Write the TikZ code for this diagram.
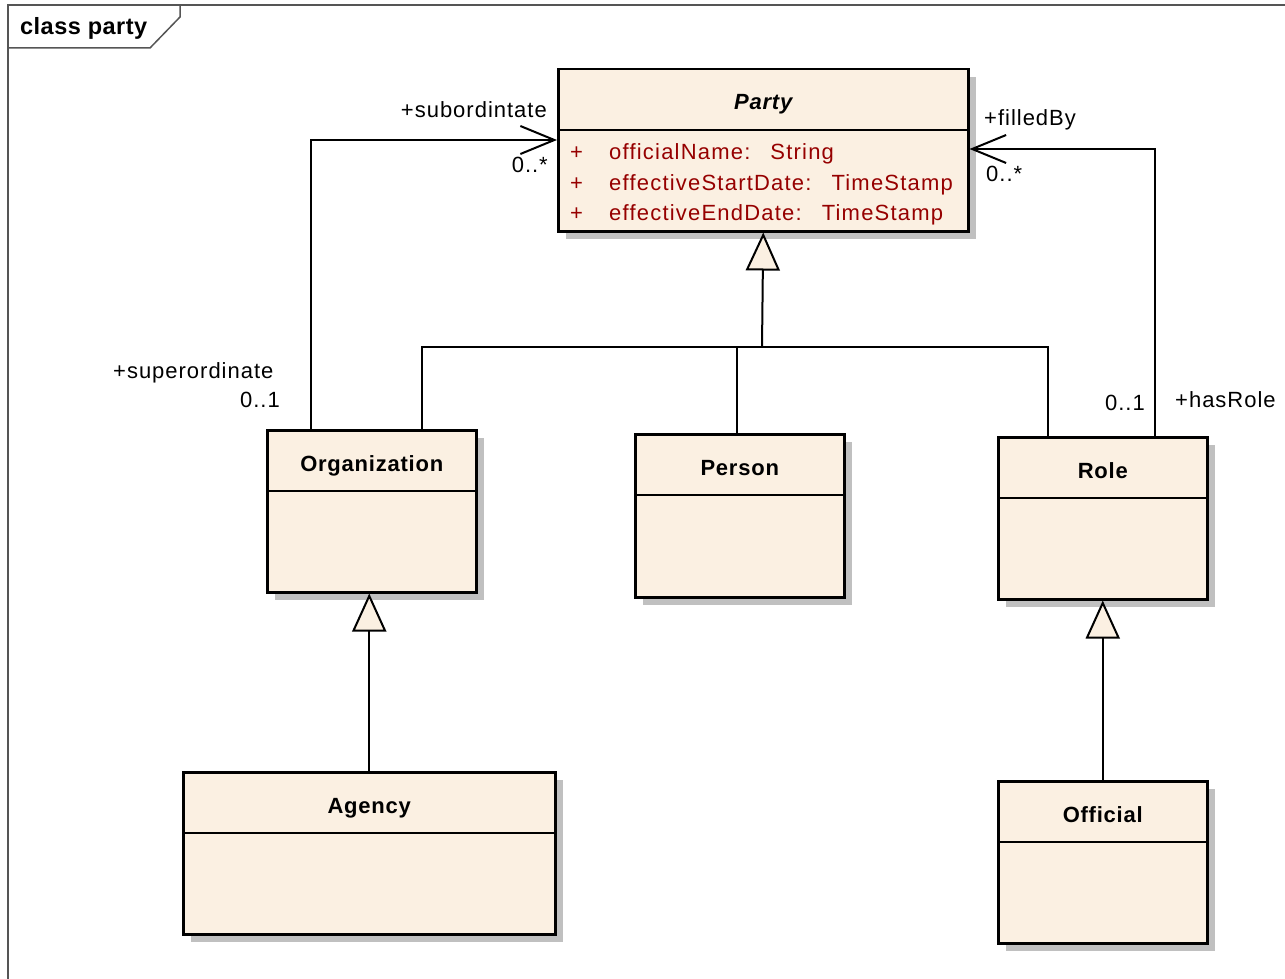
\documentclass[tikz,border=0pt]{standalone}
\usepackage{fontspec}
\setmainfont{Liberation Sans}
\newfontfamily\umlfont[LetterSpace=4.5]{Liberation Sans}
\newfontfamily\attrfont[LetterSpace=5.5]{Liberation Sans}
\newfontfamily\umlboldfont[LetterSpace=3.5]{Liberation Sans}
\newfontfamily\framefont[LetterSpace=2]{Liberation Sans}
\usetikzlibrary{arrows.meta,calc,shadows}

\definecolor{cream}{RGB}{251,240,226}
\definecolor{attrred}{RGB}{150,0,0}
\definecolor{shade}{RGB}{192,192,192}
\definecolor{framegray}{RGB}{85,85,85}

\tikzset{
  classbox/.style={draw, line width=2.5pt, fill=cream, anchor=north west,
    inner sep=0pt, minimum width=209pt, minimum height=162pt,
    drop shadow={shadow xshift=8pt, shadow yshift=-8pt, fill=shade, opacity=1}},
  divider/.style={line width=2pt},
  classname/.style={font=\umlboldfont\fontsize{22}{26}\selectfont\bfseries,
    anchor=base, inner sep=0pt},
  lbl/.style={font=\umlfont\fontsize{22}{26}\selectfont, inner sep=0pt},
  attr/.style={font=\attrfont\fontsize{22}{26}\selectfont, inner sep=0pt,
    text=attrred, anchor=base west},
  conn/.style={line width=2pt},
  gentip/.style={-{Triangle[length=38pt, width=34pt, fill=cream, line width=2pt]}},
  navtip/.style={-{Straight Barb[length=34pt, width=28pt, line width=2pt]}},
}
\newcommand\typegap{\hspace{20pt}}

\begin{document}
\begin{tikzpicture}[x=1pt, y=-1pt]
\useasboundingbox (0,0) rectangle (1285,979);

% diagram frame with its name tab
\draw[framegray, line width=2pt] (8,979) -- (8,5) -- (1285,5);
\draw[framegray, line width=1.5pt] (8,48) -- (150,48) -- (180,17) -- (180,5);
\node[font=\framefont\fontsize{23.5}{28}\selectfont\bfseries, anchor=base west, inner sep=0pt]
  (frametitle) at (20,35) {class party};

% classes
\node[classbox, minimum width=410pt] (party) at (557,68) {};
\node[classbox] (org) at (266,429) {};
\node[classbox, minimum height=163pt] (person) at (634,433) {};
\node[classbox] (role) at (997,436) {};
\node[classbox, minimum width=372pt] (agency) at (182,771) {};
\node[classbox] (official) at (997,780) {};

% compartment dividers
\foreach \c in {party,org,person,role,agency,official}
  \draw[divider] ($(\c.north west)+(0,62)$) -- ($(\c.north east)+(0,62)$);

% class names
\node[classname, font=\umlboldfont\fontsize{22}{26}\selectfont\bfseries\itshape]
  (partyname) at ($(party.north)+(0,42)$) {Party};
\node[classname] (orgname) at ($(org.north)+(0,42)$) {Organization};
\node[classname] (personname) at ($(person.north)+(0,42)$) {Person};
\node[classname] (rolename) at ($(role.north)+(0,42)$) {Role};
\node[classname] (agencyname) at ($(agency.north)+(0,42)$) {Agency};
\node[classname] (officialname) at ($(official.north)+(0,42)$) {Official};

% attributes of Party
\node[attr] (p1) at (570,160) {+};
\node[attr] (p2) at (570,190) {+};
\node[attr] (p3) at (570,220) {+};
\node[attr] (a1) at (609,160) {officialName:\typegap String};
\node[attr] (a2) at (609,190) {effectiveStartDate:\typegap TimeStamp};
\node[attr] (a3) at (609,220) {effectiveEndDate:\typegap TimeStamp};

% generalization tree into Party
\coordinate (hub) at (762,347);
\coordinate (orgup) at (422,347);
\coordinate (personup) at (737,347);
\coordinate (roleup) at (1048,347);
\draw[conn, gentip] (hub) -- (party.south);
\draw[conn] (orgup |- org.north) -- (orgup) -- (roleup) -- (roleup |- role.north);
\draw[conn] (personup) -- (personup |- person.north);

% generalizations of Agency and Official
\draw[conn, gentip] (agency.north) -- (agency.north |- org.south);
\draw[conn, gentip] (official.north) -- (official.north |- role.south);

% association Organization -> Party
\coordinate (subbend) at (311,140);
\draw[conn, navtip] (subbend |- org.north) -- (subbend) -- (subbend -| party.west);
\node[lbl, anchor=base east] (subrole) at (547,118) {+subordintate};
\node[lbl, anchor=base east] (submult) at (548,172) {0..*};
\node[lbl, anchor=base west] (suprole) at (113,378) {+superordinate};
\node[lbl, anchor=base east] (supmult) at (280,407) {0..1};

% association Role -> Party
\coordinate (rolebend) at (1155,149);
\draw[conn, navtip] (rolebend |- role.north) -- (rolebend) -- (rolebend -| party.east);
\node[lbl, anchor=base west] (filledrole) at (984,126) {+filledBy};
\node[lbl, anchor=base west] (filledmult) at (986,182) {0..*};
\node[lbl, anchor=base east] (hasmult) at (1145,410) {0..1};
\node[lbl, anchor=base west] (hasrole) at (1175,407) {+hasRole};
\end{tikzpicture}
\end{document}
